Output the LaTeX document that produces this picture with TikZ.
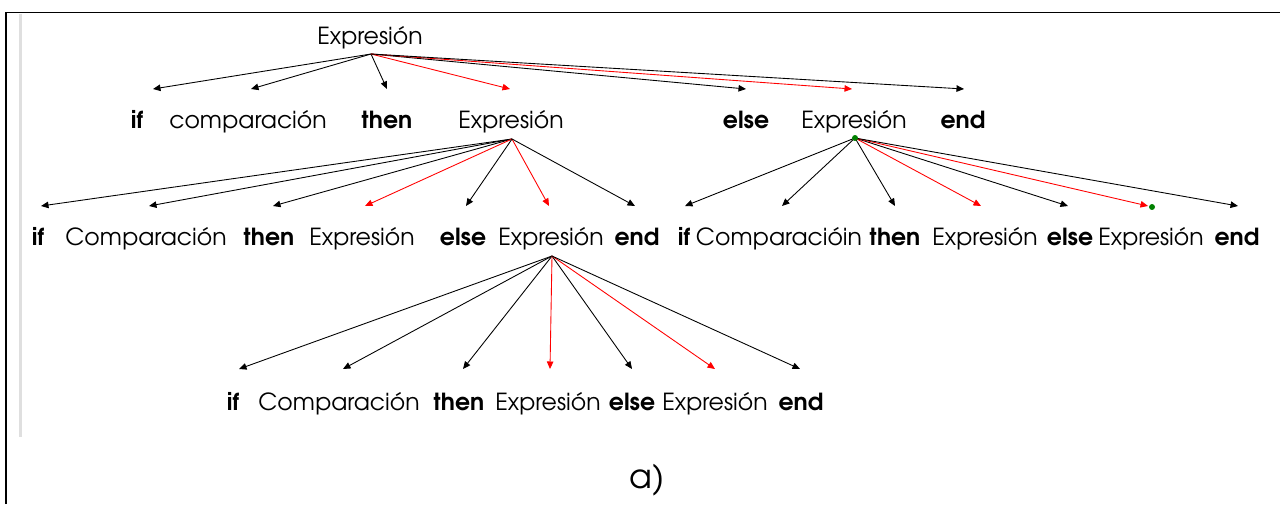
\documentclass[tikz,border=0pt]{standalone}
\usepackage{fontspec}
\setmainfont{texgyreadventor}[Extension=.otf,UprightFont=*-regular,BoldFont=*-bold]
\usepackage{tikz}
\usetikzlibrary{arrows.meta,calc}

\tikzset{
  word/.style={inner sep=0pt,anchor=base,font=\fontsize{13.4}{16}\selectfont},
  kw/.style={inner sep=0pt,anchor=base,font=\fontsize{13.4}{16}\selectfont\bfseries},
  arr/.style={-{Triangle[length=0.15cm,width=0.13cm]},line width=0.5pt},
  redarr/.style={arr,red},
}

\begin{document}
\begin{tikzpicture}[x=0.02cm,y=-0.02cm]
\useasboundingbox (0,0) rectangle (1280,504);
% page frame
\draw[line width=1.1pt] (6,504) -- (6,12.5) -- (1280,12.5);
\draw[line width=1.2pt,gray!25] (20.5,13.5) -- (20.5,437);

% root
\node[word] (ex0) at (370,44) {Expresión};
\coordinate (s0) at ($(ex0.base)+(1,10)$);

% first level
\foreach \n/\x/\t/\s/\c/\d in {if1/137/if/kw/arr/16, cmp1/248/comparación/word/arr/3,
    then1/387/then/kw/arr/0, ex1/511/Expresión/word/redarr/-1, else1/746/else/kw/arr/0,
    ex2/854/Expresión/word/redarr/-2, end1/963/end/kw/arr/1}
  {\node[\s] (\n) at (\x,128) {\t};
   \draw[\c] (s0) -- ($(\n.base)+(\d,-39)$);}

% second level, left branch
\coordinate (s1) at ($(ex1.base)+(1,11)$);
\foreach \n/\x/\t/\s/\c/\d in {if2/38/if/kw/arr/3, cmp2/146/Comparación/word/arr/3,
    then2/269/then/kw/arr/4, ex3/362/Expresión/word/redarr/3, else2/463/else/kw/arr/3,
    ex4/551/Expresión/word/redarr/-2, end2/637/end/kw/arr/-2}
  {\node[\s] (\n) at (\x,245) {\t};
   \draw[\c] (s1) -- ($(\n.base)+(\d,-39)$);}

% second level, right branch
\coordinate (s2) at ($(ex2.base)+(1,10)$);
\foreach \n/\x/\t/\s/\c/\d in {if3/684/if/kw/arr/1, cmp3/779/Comparacióin/word/arr/3,
    then3/895/then/kw/arr/0, ex5/985/Expresión/word/redarr/-4, else3/1070/else/kw/arr/-2,
    ex6/1151/Expresión/word/redarr/-3, end3/1237/end/kw/arr/1}
  {\node[\s] (\n) at (\x,245) {\t};
   \draw[\c] (s2) -- ($(\n.base)+(\d,-39)$);}
\fill[green!50!black] (s2) circle (1.7pt);
\fill[green!50!black] ($(ex6.base)+(1,-38)$) circle (1.7pt);

% third level
\coordinate (s3) at ($(ex4.base)+(1,11)$);
\foreach \n/\x/\t/\s/\c/\d in {if4/233/if/kw/arr/6, cmp4/339/Comparación/word/arr/4,
    then4/459/then/kw/arr/4, ex7/548/Expresión/word/redarr/2, else4/632/else/kw/arr/0,
    ex8/715/Expresión/word/redarr/0, end4/801/end/kw/arr/-1}
  {\node[\s] (\n) at (\x,410) {\t};
   \draw[\c] (s3) -- ($(\n.base)+(\d,-41)$);}

\node[word,font=\fontsize{19}{22}\selectfont] (cap) at (647,488) {a)};
\end{tikzpicture}
\end{document}
